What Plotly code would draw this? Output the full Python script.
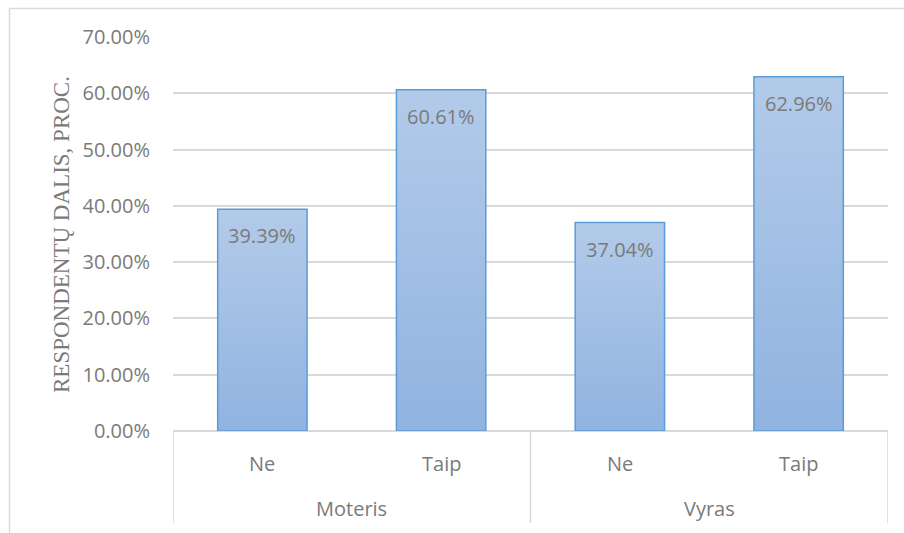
import plotly.graph_objects as go

# Survey answers grouped by gender
groups = ["Moteris", "Vyras"]
answers = ["Ne", "Taip"]
shares = [39.39, 60.61, 37.04, 62.96]  # percent of respondents
y_ticks = [0, 10, 20, 30, 40, 50, 60, 70]
y_title = "RESPONDENTŲ DALIS, PROC."

W, H = 904, 533
M_L, M_R, M_T, M_B = 173, 16, 37, 102
plot_h = H - M_T - M_B

GRID = "#d9d9d9"
TEXT = "#7a7a7a"
BAR_LINE = "#5b9bd5"
BAR_TOP = "#b3cbea"
BAR_BOTTOM = "#90b3e0"
SANS = "Open Sans"
SERIF = "Liberation Serif"

n_ans = len(answers)
n_cat = len(groups) * n_ans
half_w = 0.25  # half of the bar width in category units

fig = go.Figure()

# Bars drawn as filled outlines so each one carries its own vertical gradient
for i, v in enumerate(shares):
    c = i + 0.5
    fig.add_trace(go.Scatter(
        x=[c - half_w, c - half_w, c + half_w, c + half_w, c - half_w],
        y=[0, v, v, 0, 0],
        mode="lines",
        fill="toself",
        fillgradient=dict(type="vertical", start=0, stop=v,
                          colorscale=[[0, BAR_BOTTOM], [1, BAR_TOP]]),
        line=dict(color=BAR_LINE, width=1.5),
        hoverinfo="skip",
        showlegend=False,
    ))

# Value labels just inside the top of each bar
for i, v in enumerate(shares):
    fig.add_annotation(x=i + 0.5, y=v, xref="x", yref="y",
                       text=f"{v:.2f}%", showarrow=False,
                       yanchor="top", yshift=-11,
                       font=dict(family=SANS, size=20, color=TEXT))

def px_to_paper(py):
    # vertical pixel offset below the plot area -> paper coordinate
    return -py / plot_h

# Two-level category axis: answer labels, group labels and separators
lvl1_y = px_to_paper(32)
lvl2_y = px_to_paper(77)
box_bottom = px_to_paper(92)

for g, gname in enumerate(groups):
    for a, aname in enumerate(answers):
        idx = g * n_ans + a
        fig.add_annotation(x=idx + 0.5, y=lvl1_y, xref="x", yref="paper",
                           text=aname, showarrow=False, yanchor="middle",
                           font=dict(family=SANS, size=20, color=TEXT))
    fig.add_annotation(x=g * n_ans + n_ans / 2, y=lvl2_y, xref="x", yref="paper",
                       text=gname, showarrow=False, yanchor="middle",
                       font=dict(family=SANS, size=20, color=TEXT))

for g in range(len(groups) + 1):
    fig.add_shape(type="line", xref="x", yref="paper",
                  x0=g * n_ans, x1=g * n_ans, y0=0, y1=box_bottom,
                  line=dict(color=GRID, width=1.5), layer="below")

# Outer chart frame (left and top edges are visible)
fx0 = -(M_L - 9.5) / (W - M_L - M_R)
fy1 = 1 + (M_T - 8.5) / plot_h
fig.add_shape(type="line", xref="paper", yref="paper",
              x0=fx0, x1=fx0, y0=fy1, y1=-1, line=dict(color=GRID, width=1.5))
fig.add_shape(type="line", xref="paper", yref="paper",
              x0=fx0, x1=2, y0=fy1, y1=fy1, line=dict(color=GRID, width=1.5))

# Axis title
fig.add_annotation(x=-(M_L - 61) / (W - M_L - M_R), y=0.5, xref="paper", yref="paper",
                   text=y_title, textangle=-90, showarrow=False,
                   xanchor="center", yanchor="middle",
                   font=dict(family=SERIF, size=23, color=TEXT))

fig.update_layout(
    width=W, height=H,
    margin=dict(l=M_L, r=M_R, t=M_T, b=M_B),
    paper_bgcolor="white", plot_bgcolor="white",
    xaxis=dict(range=[0, n_cat], showgrid=False, zeroline=False,
               showticklabels=False, ticks="", showline=False, fixedrange=True),
    yaxis=dict(range=[0, 70], tickvals=y_ticks,
               ticktext=[f"{t:.2f}%" for t in y_ticks],
               showgrid=True, gridcolor=GRID, gridwidth=1.5,
               zeroline=True, zerolinecolor=GRID, zerolinewidth=1.5,
               showline=False, ticks="", ticklabelstandoff=22,
               tickfont=dict(family=SANS, size=20, color=TEXT), fixedrange=True),
    showlegend=False,
)

fig.write_html("out.html")
